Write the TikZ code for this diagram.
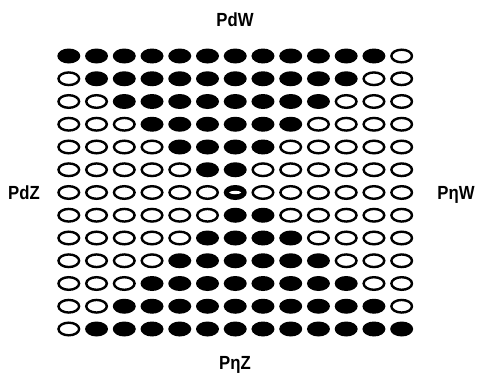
\documentclass[tikz,border=0pt]{standalone}
\usepackage{fontspec}
\setmainfont{Liberation Sans}
\usetikzlibrary{shapes.geometric}
\tikzset{
  cellbase/.style={ellipse, inner sep=0pt, outer sep=0pt},
  fillcell/.style={cellbase, fill=black, minimum width=23pt, minimum height=15pt},
  opencell/.style={cellbase, draw=black, fill=white, line width=2.4pt, minimum width=20.6pt, minimum height=12.6pt},
  axislabel/.style={font=\fontsize{19}{22}\selectfont\bfseries, xscale=0.88, inner sep=0pt, anchor=base}
}
\begin{document}
\begin{tikzpicture}[x=1pt,y=1pt]
\useasboundingbox[fill=white] (0,0) rectangle (477,376);
\foreach \r in {0,...,12}{
  \foreach \c in {0,...,12}{
    \pgfmathsetmacro\xx{68.8+27.74*\c}
    \pgfmathsetmacro\yy{376-56-22.75*\r}
    \pgfmathtruncatemacro\f{(\r<6)*(\c>=\r)*(\c<=11-\r)+(\r>6)*(\c>=13-\r)*(\c<=\r)+(\r==6)*(\c==6)}
    \ifnum\f=1
      \node[fillcell] (c-\r-\c) at (\xx,\yy) {};
    \else
      \node[opencell] (c-\r-\c) at (\xx,\yy) {};
    \fi
  }
}
\fill[white] (c-6-6.center) ellipse (6pt and 1.6pt);
\node[axislabel] (top) at (235,349) {PdW};
\node[axislabel] (bottom) at (235,7) {PηZ};
\node[axislabel] (left) at (24,177) {PdZ};
\node[axislabel] (right) at (456,177) {PηW};
\end{tikzpicture}
\end{document}
